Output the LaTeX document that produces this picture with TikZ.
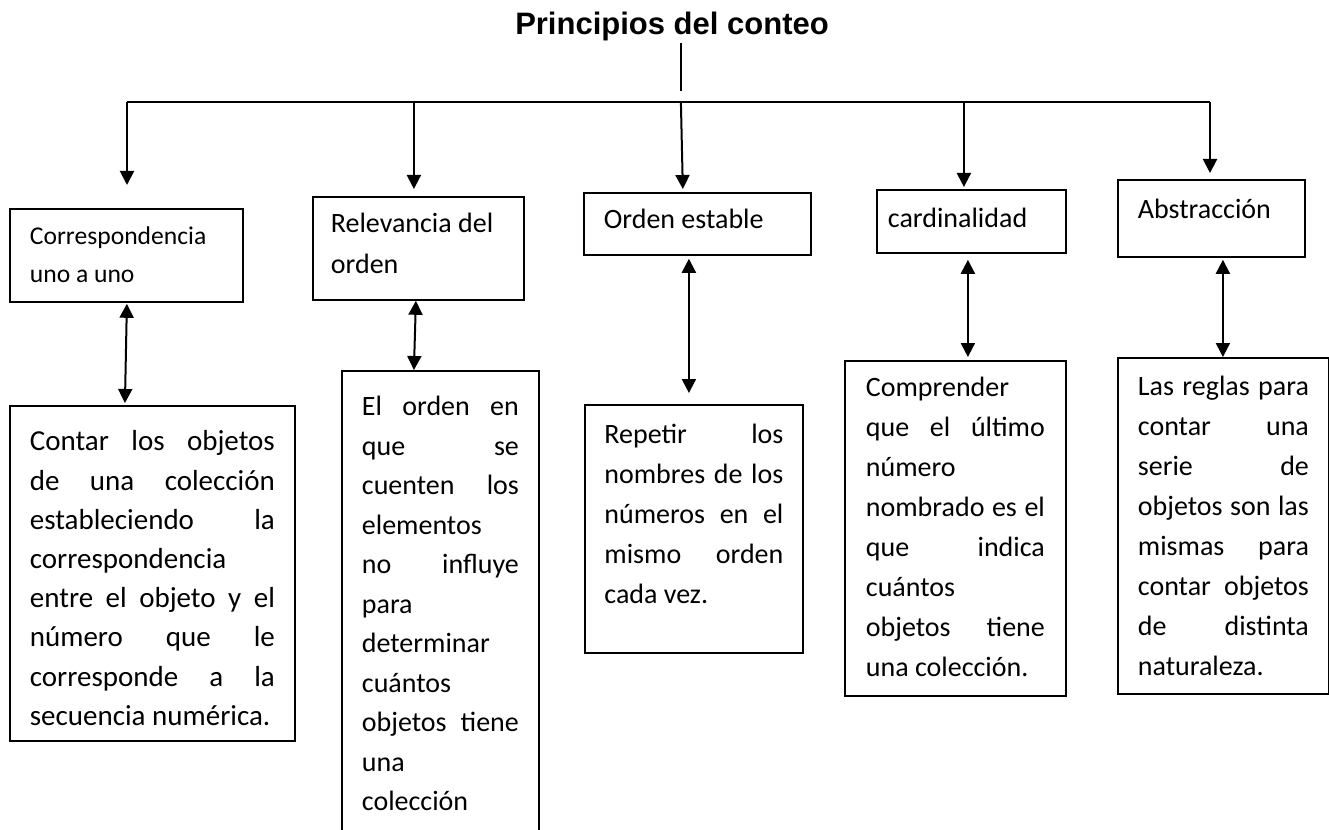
\documentclass[tikz,border=0pt]{standalone}
\usepackage{fontspec}
\setmainfont{Carlito}
\newfontfamily\titlefont{Liberation Sans}
\usetikzlibrary{arrows.meta}

% one justified line, and a top aligned text block of fixed size
\newcommand{\jl}[1]{\makebox[\linewidth][s]{#1}}
\newcommand{\boxtext}[4]{\parbox[t][#2][t]{#1}{\rule{0pt}{#3}#4}}

\begin{document}
\begin{tikzpicture}[x=1pt, y=-1pt,
	box/.style={draw, line width=1.8pt, anchor=north west, inner ysep=0pt, inner xsep=20pt, font={\fontsize{28}{39.5}\selectfont}},
	arr/.style={line width=2pt, -{Triangle[width=14pt,length=14pt]}},
	dbl/.style={line width=2pt, {Triangle[width=14pt,length=14pt]}-{Triangle[width=14pt,length=14pt]}}]
	\useasboundingbox (0,0) rectangle (1329,829);

	\node[inner sep=0pt, anchor=base, font={\titlefont\bfseries\fontsize{31}{36}\selectfont}] (title) at (672,35) {Principios del conteo};
	\coordinate (stem) at (681,91);
	\coordinate (barL) at (127,102.5);
	\coordinate (barR) at (1210,102.5);

	% principios
	\node[box, font={\fontsize{25.6}{38}\selectfont}] (up1) at (9,208) {\boxtext{193pt}{93pt}{36pt}{Correspondencia\\uno a uno}};
	\node[box, inner xsep=18pt, font={\fontsize{28}{41}\selectfont}] (up2) at (312,196) {\boxtext{175pt}{103pt}{36pt}{Relevancia del\\orden}};
	\node[box] (up3) at (583,192) {\boxtext{187pt}{62pt}{36pt}{Orden estable}};
	\node[box, inner xsep=11pt] (up4) at (876,189) {\boxtext{167pt}{63pt}{38pt}{cardinalidad}};
	\node[box] (up5) at (1117,179) {\boxtext{147pt}{77pt}{39pt}{Abstracción}};

	% descripciones
	\node[box, font={\fontsize{29}{39.2}\selectfont}] (lo1) at (9,405) {\boxtext{245pt}{335pt}{45pt}{\jl{Contar los objetos}\\\jl{de una colección}\\\jl{estableciendo la}\\correspondencia\\\jl{entre el objeto y el}\\\jl{número que le}\\\jl{corresponde a la}\\secuencia numérica.}};
	\node[box] (lo2) at (341,370) {\boxtext{157pt}{470pt}{45pt}{\jl{El orden en}\\\jl{que se}\\\jl{cuenten los}\\elementos\\\jl{no influye}\\para\\determinar\\cuántos\\\jl{objetos tiene}\\una\\colección}};
	\node[box, inner xsep=19.5pt, font={\fontsize{28}{40}\selectfont}] (lo3) at (584,404) {\boxtext{179pt}{248pt}{39pt}{\jl{Repetir los}\\\jl{nombres de los}\\\jl{números en el}\\\jl{mismo orden}\\cada vez.}};
	\node[box, inner xsep=21pt, font={\fontsize{28}{40}\selectfont}] (lo4) at (844,360) {\boxtext{179pt}{335pt}{36pt}{Comprender\\\jl{que el último}\\número\\\jl{nombrado es el}\\\jl{que indica}\\cuántos\\\jl{objetos tiene}\\una colección.}};
	\node[box, font={\fontsize{28}{40}\selectfont}] (lo5) at (1117,357) {\boxtext{171pt}{336pt}{38pt}{\jl{Las reglas para}\\\jl{contar una}\\\jl{serie de}\\\jl{objetos son las}\\\jl{mismas para}\\\jl{contar objetos}\\\jl{de distinta}\\naturaleza.}};

	\draw[line width=2pt, shorten <=1.5pt] (title.south -| stem) -- (stem);
	\draw[line width=2pt] (barL) -- (barR);

	\draw[arr, shorten >=23pt] (barL) -- (barL |- up1.north);
	\draw[arr, shorten >=7pt] ([xshift=-4.5pt]up2.north |- barL) -- ([xshift=-4.5pt]up2.north);
	\draw[arr, shorten >=3pt] ([xshift=-16.5pt]up3.north |- barL) -- ([xshift=-14.5pt]up3.north);
	\draw[arr, shorten >=2pt] ([xshift=-7.5pt]up4.north |- barL) -- ([xshift=-7.5pt]up4.north);
	\draw[arr, shorten >=6pt] (barR) -- (barR |- up5.north);

	\draw[dbl, shorten <=1pt, shorten >=2pt] ([xshift=0.5pt]up1.south) -- ([xshift=-1.5pt]up1.south |- lo1.north);
	\draw[dbl] ([xshift=-2.5pt]up2.south) -- ([xshift=-4.5pt]up2.south |- lo2.north);
	\draw[dbl, shorten <=3pt, shorten >=11pt] ([xshift=-8.5pt]up3.south) -- ([xshift=-8.5pt]up3.south |- lo3.north);
	\draw[dbl, shorten <=6pt, shorten >=3pt] ([xshift=-3.5pt]up4.south) -- ([xshift=-3.5pt]up4.south |- lo4.north);
	\draw[dbl, shorten <=2pt] ([xshift=11.5pt]up5.south) -- ([xshift=11.5pt]up5.south |- lo5.north);
\end{tikzpicture}
\end{document}
